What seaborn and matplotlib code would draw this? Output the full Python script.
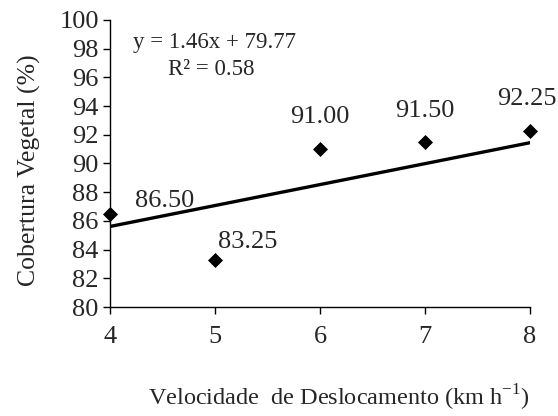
import matplotlib
matplotlib.use("Agg")
import matplotlib.pyplot as plt
import numpy as np
import pandas as pd
import seaborn as sns

# dados
velocidade = [4, 5, 6, 7, 8]
cobertura = [86.50, 83.25, 91.00, 91.50, 92.25]
rotulos = ["86.50", "83.25", "91.00", "91.50", "92.25"]
coef_a, coef_b = 1.46, 79.77
r2 = 0.58

df = pd.DataFrame({"vel": velocidade, "cob": cobertura})

sns.set_style("ticks")
plt.rcParams["font.family"] = ["Liberation Serif", "DejaVu Serif"]
plt.rcParams["mathtext.fontset"] = "custom"
plt.rcParams["mathtext.rm"] = "Liberation Serif"

fig, ax = plt.subplots(figsize=(5.58, 4.16), dpi=100)
fig.subplots_adjust(left=0.197, right=0.950, bottom=0.262, top=0.952)

sns.scatterplot(data=df, x="vel", y="cob", marker="D", color="black", s=50,
                edgecolor="black", zorder=3, ax=ax, clip_on=False)

xs = np.array([velocidade[0], velocidade[-1]])
ax.plot(xs, coef_a * xs + coef_b, color="black", lw=2.4, zorder=2)

# rótulos dos pontos (deslocamento em pixels)
offsets = [(55, 13), (33, 18), (0, 32), (0, 31), (-3, 32)]
for x, y, t, (dx, dy) in zip(velocidade, cobertura, rotulos, offsets):
    ax.annotate(t, (x, y), xytext=(dx, dy), textcoords="offset pixels",
                ha="center", va="center", fontsize=19)

ax.text(0.25, 0.923, f"y = {coef_a:.2f}x + {coef_b:.2f}", transform=ax.transAxes,
        ha="center", va="center", fontsize=16.5)
ax.text(0.24, 0.826, f"R² = {r2:.2f}", transform=ax.transAxes,
        ha="center", va="center", fontsize=16.5)

ax.set_xlim(4, 8)
ax.set_ylim(80, 100)
ax.set_xticks(range(4, 9))
ax.set_yticks(range(80, 101, 2))
ax.tick_params(labelsize=19, direction="out", length=5, width=1, color="black")
sns.despine(ax=ax)
for s in ["left", "bottom"]:
    ax.spines[s].set_color("black")
    ax.spines[s].set_linewidth(1)

ax.set_xlabel("Velocidade  de Deslocamento (km h$^{\\mathrm{-1}}$)", fontsize=17.5)
ax.xaxis.set_label_coords(0.545, -0.265)
ax.set_ylabel("Cobertura Vegetal (%)", fontsize=18.5)
ax.yaxis.set_label_coords(-0.165, 0.475)
ax.xaxis.set_tick_params(pad=9)
ax.yaxis.set_tick_params(pad=3)

fig.savefig("out.png", dpi=100)
